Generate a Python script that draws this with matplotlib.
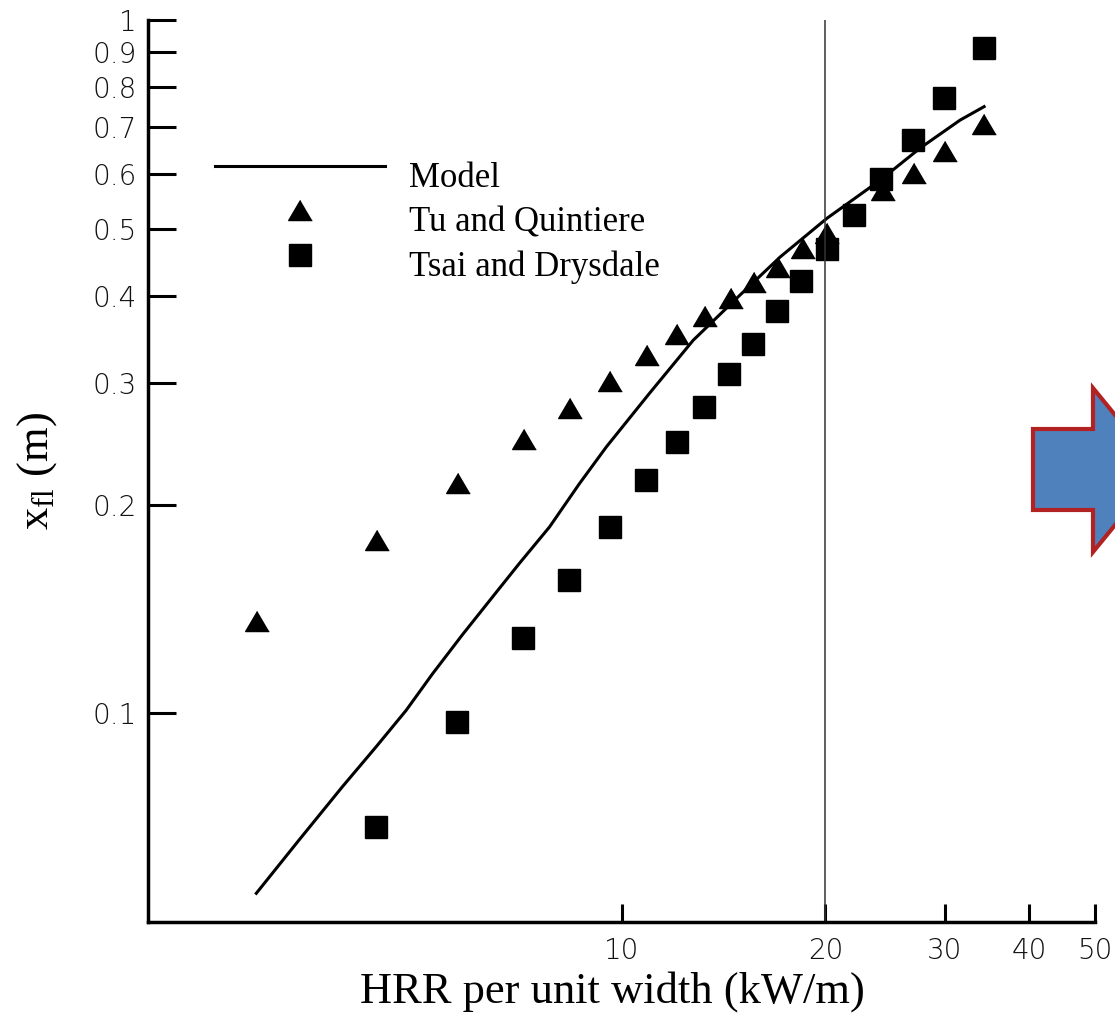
import matplotlib
matplotlib.use("Agg")
import matplotlib.pyplot as plt
from matplotlib.patches import Polygon

# Data (log-log)
model_hrr = [2.89, 3.34, 3.87, 4.34, 4.81, 5.26, 5.83, 6.57, 7.07, 7.83, 8.67,
             9.50, 11.0, 12.76, 14.96, 17.14, 20.1, 24.1, 27.6, 31.6, 34.3]
model_xfl = [0.0550, 0.0656, 0.0783, 0.0894, 0.101, 0.114, 0.130, 0.1505, 0.1646,
             0.1857, 0.2145, 0.2423, 0.2895, 0.3452, 0.4011, 0.455, 0.5175,
             0.5876, 0.6536, 0.717, 0.750]

tu_hrr = [2.90, 4.35, 5.74, 7.18, 8.38, 9.63, 10.92, 12.08, 13.28, 14.49,
          15.70, 17.04, 18.51, 20.10, 24.29, 26.99, 30.0, 34.34]
tu_xfl = [0.136, 0.178, 0.215, 0.2485, 0.276, 0.302, 0.3285, 0.352, 0.374,
          0.397, 0.4186, 0.4406, 0.4685, 0.493, 0.5685, 0.602, 0.648, 0.707]

tsai_hrr = [4.34, 5.72, 7.15, 8.36, 9.61, 10.86, 12.06, 13.23, 14.42, 15.65,
            16.98, 18.41, 20.10, 22.06, 24.15, 26.90, 29.90, 34.26]
tsai_xfl = [0.0686, 0.0971, 0.1284, 0.1555, 0.1857, 0.2169, 0.2463, 0.2767,
            0.3082, 0.3407, 0.3803, 0.4207, 0.4673, 0.5232, 0.589, 0.671,
            0.771, 0.910]

x_ticks = [10, 20, 30, 40, 50]
y_ticks = [0.1, 0.2, 0.3, 0.4, 0.5, 0.6, 0.7, 0.8, 0.9, 1]
y_tick_labels = ["0.1", "0.2", "0.3", "0.4", "0.5", "0.6", "0.7", "0.8", "0.9", "1"]
marker_line = 20

plt.rcParams['mathtext.fontset'] = 'custom'
plt.rcParams['mathtext.rm'] = 'Liberation Serif'
serif = 'Liberation Serif'
tick_font = {'family': 'DejaVu Sans', 'size': 20, 'weight': 'light', 'color': '#111111'}

W, H = 1115, 1019
fig = plt.figure(figsize=(W / 100, H / 100), dpi=100)
ax = fig.add_axes([148 / W, (H - 922) / H, (1095 - 148) / W, (922 - 20) / H])

tri = [(0, 0.85), (-1, -0.85), (1, -0.85)]
ax.plot(model_hrr, model_xfl, color='black', lw=2.2, label='Model')
ax.plot(tu_hrr, tu_xfl, ls='none', marker=tri, ms=17, color='black',
        label='Tu and Quintiere')
ax.plot(tsai_hrr, tsai_xfl, ls='none', marker='s', ms=15.5, color='black',
        label='Tsai and Drysdale')
ax.axvline(marker_line, color='#333333', lw=1.1)

ax.set_xscale('log')
ax.set_yscale('log')
ax.set_xlim(2, 50)
ax.set_ylim(0.05, 1)
ax.set_xticks(x_ticks)
ax.set_xticklabels([str(t) for t in x_ticks], fontdict=tick_font)
ax.set_yticks(y_ticks)
ax.set_yticklabels(y_tick_labels, fontdict=tick_font)
ax.minorticks_off()
ax.tick_params(axis='y', direction='in', length=20, width=2.2, pad=8)
ax.tick_params(axis='x', direction='in', length=13, width=2.2, pad=11)

for side in ['top', 'right']:
    ax.spines[side].set_visible(False)
for side in ['left', 'bottom']:
    ax.spines[side].set_linewidth(2.5)

ax.set_xlabel('HRR per unit width (kW/m)', family=serif, fontsize=32, labelpad=4)
ax.xaxis.label.set_x(0.49)
ax.set_ylabel(r'$\mathregular{x_{fl}}$ (m)', family=serif, fontsize=32, labelpad=24)

leg = ax.legend(loc='upper left', bbox_to_anchor=(215 / W, 1 - 153 / H),
                bbox_transform=fig.transFigure, frameon=False,
                prop={'family': serif, 'size': 25}, handlelength=4.9,
                handletextpad=0.7, labelspacing=0.32, borderpad=0,
                borderaxespad=0)
for t in leg.get_texts():
    t.set_y(-9)

# blue arrow on the right, cut by the figure edge
arrow = Polygon([(1033, 429), (1093, 429), (1093, 388), (1160, 470),
                 (1093, 552), (1093, 510), (1033, 510)],
                closed=True, facecolor='#4F81BD', edgecolor='#B22222', lw=3,
                transform=None, clip_on=False)
arrow.set_xy([(x, H - y) for x, y in arrow.get_xy()])
fig.patches.append(arrow)

fig.savefig('out.png', dpi=100)
